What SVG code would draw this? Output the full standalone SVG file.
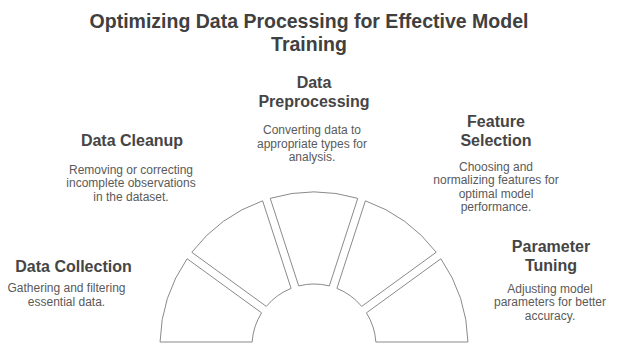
<svg xmlns="http://www.w3.org/2000/svg" width="618" height="345" viewBox="0 0 618 345">
<style>
.title{font-family:"Liberation Sans",Arial,sans-serif;font-weight:bold;font-size:19.5px;fill:#404040;text-anchor:middle}
.h{font-family:"Liberation Sans",Arial,sans-serif;font-weight:bold;font-size:16px;fill:#454545;text-anchor:middle}
.d{font-family:"Liberation Sans",Arial,sans-serif;font-size:12px;fill:#5a5a5a;text-anchor:middle}
.seg{fill:#ffffff;stroke:#8a8a8a;stroke-width:1}
</style>
<rect width="618" height="345" fill="#ffffff"/>
<g id="title">
<text class="title" x="309" y="28">Optimizing Data Processing for Effective Model</text>
<text class="title" x="309" y="51">Training</text>
</g>
<g id="connectors"></g>
<g id="seg-collection"><path class="seg" d="M187.11 258.74 A154 154 0 0 0 160.05 342 L252.13 342 A62 62 0 0 1 261.59 312.87 Z"/></g>
<g id="seg-cleanup"><path class="seg" d="M262.62 200.82 A154 154 0 0 0 191.80 252.28 L266.30 306.40 A62 62 0 0 1 291.08 288.39 Z"/></g>
<g id="seg-preprocessing"><path class="seg" d="M357.77 198.35 A154 154 0 0 0 270.23 198.35 L298.69 285.92 A62 62 0 0 1 329.31 285.92 Z"/></g>
<g id="seg-feature"><path class="seg" d="M436.20 252.28 A154 154 0 0 0 365.38 200.82 L336.92 288.39 A62 62 0 0 1 361.70 306.40 Z"/></g>
<g id="seg-tuning"><path class="seg" d="M467.95 342 A154 154 0 0 0 440.89 258.74 L366.41 312.87 A62 62 0 0 1 375.87 342 Z"/></g>
<g id="node-collection">
<text class="h" x="73.5" y="272">Data Collection</text>
<text class="d" x="66.5" y="292">Gathering and filtering</text>
<text class="d" x="66.5" y="305.5">essential data.</text>
</g>
<g id="node-cleanup">
<text class="h" x="132" y="146">Data Cleanup</text>
<text class="d" x="131" y="173.5">Removing or correcting</text>
<text class="d" x="131" y="187">incomplete observations</text>
<text class="d" x="131" y="200.5">in the dataset.</text>
</g>
<g id="node-preprocessing">
<text class="h" x="314" y="87.5">Data</text>
<text class="h" x="314" y="106.5">Preprocessing</text>
<text class="d" x="312" y="134">Converting data to</text>
<text class="d" x="312" y="147.5">appropriate types for</text>
<text class="d" x="312" y="161">analysis.</text>
</g>
<g id="node-feature">
<text class="h" x="496" y="126.5">Feature</text>
<text class="h" x="496" y="145.5">Selection</text>
<text class="d" x="496" y="170.5">Choosing and</text>
<text class="d" x="496" y="184">normalizing features for</text>
<text class="d" x="496" y="197.5">optimal model</text>
<text class="d" x="496" y="211">performance.</text>
</g>
<g id="node-tuning">
<text class="h" x="551" y="251.5">Parameter</text>
<text class="h" x="551" y="270.5">Tuning</text>
<text class="d" x="550" y="292.5">Adjusting model</text>
<text class="d" x="550" y="306">parameters for better</text>
<text class="d" x="550" y="319.5">accuracy.</text>
</g>
</svg>
